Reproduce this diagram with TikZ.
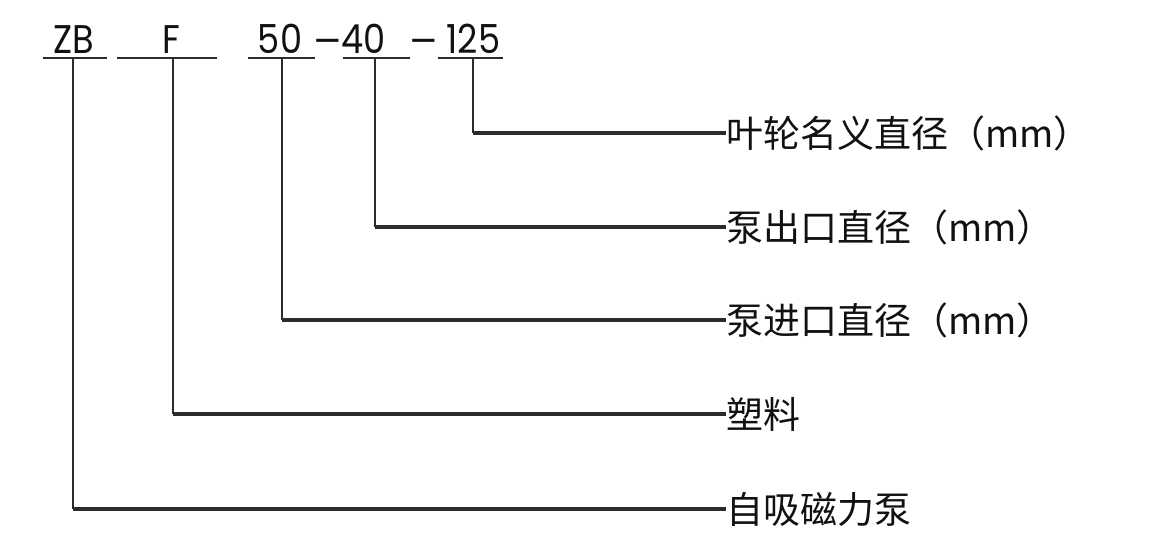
\documentclass[tikz,border=0pt]{standalone}
\usepackage{fontspec}
\newfontfamily\cjk{Noto Sans CJK SC}
\newfontfamily\codefont[FakeStretch=0.88]{Poppins}
\definecolor{ink}{HTML}{111111}
\definecolor{rulec}{HTML}{2C2C2C}
\begin{document}
\begin{tikzpicture}[x=1pt,y=-1pt,
 code/.style={font=\codefont\fontsize{40}{40}\selectfont, inner sep=0pt, anchor=base, text=ink},
 lab/.style={font=\cjk\fontsize{37}{37}\selectfont, inner sep=0pt, anchor=west, text=ink, text height=28pt, text depth=0pt},
 uline/.style={draw=rulec, line width=2pt},
 vline/.style={draw=rulec, line width=1.8pt},
 hline/.style={draw=rulec, line width=3.4pt},
]
\useasboundingbox[fill=white] (0,0) rectangle (1163,554);

% model code
\node[code] (tzb) at (73.5,53) {ZB};
\node[code] (tf) at (171,53) {F};
\node[code] (t50) at (280,53) {50};
\node[code] (d1) at (327.5,55) {\scalebox{1.2}[1]{–}};
\node[code] (t40) at (363.5,53) {40};
\node[code] (d2) at (424,55) {\scalebox{1.2}[1]{–}};
\node[code] (t125) at (473.5,53) {125};

% underlines
\coordinate (bzb) at (73,58);
\coordinate (bf) at (173,58);
\coordinate (b50) at (282,58);
\coordinate (b40) at (375,58);
\coordinate (b125) at (473,58);
\draw[uline] (43,58) -- (107,58);
\draw[uline] (117,58) -- (217,58);
\draw[uline] (248,58) -- (315,58);
\draw[uline] (343,58) -- (410,58);
\draw[uline] (438,58) -- (503,58);

% labels
\node[lab] (l1) at (726,133) {叶轮名义直径（mm）};
\node[lab] (l2) at (726,227) {泵出口直径（mm）};
\node[lab] (l3) at (726,320) {泵进口直径（mm）};
\node[lab] (l4) at (726,414) {塑料};
\node[lab] (l5) at (726,509) {自吸磁力泵};

% connectors
\draw[vline] (b125) -- (b125 |- l1.west);
\draw[hline] (b125 |- l1.west) -- (l1.west);
\draw[vline] (b40) -- (b40 |- l2.west);
\draw[hline] (b40 |- l2.west) -- (l2.west);
\draw[vline] (b50) -- (b50 |- l3.west);
\draw[hline] (b50 |- l3.west) -- (l3.west);
\draw[vline] (bf) -- (bf |- l4.west);
\draw[hline] (bf |- l4.west) -- (l4.west);
\draw[vline] (bzb) -- (bzb |- l5.west);
\draw[hline] (bzb |- l5.west) -- (l5.west);
\end{tikzpicture}
\end{document}
